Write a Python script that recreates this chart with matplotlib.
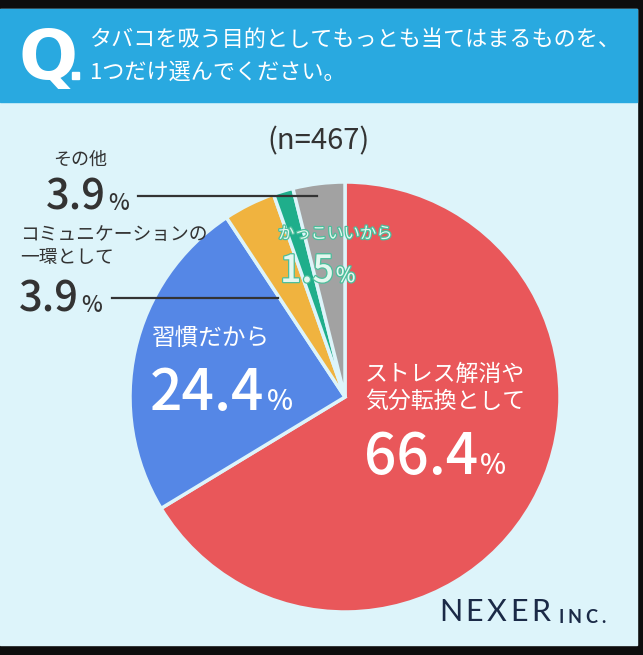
# Survey pie chart - reasons for smoking (NEXER)

import numpy as np
import matplotlib.pyplot as plt
import matplotlib.patheffects as pe
from matplotlib.patches import Rectangle

plt.rcParams['font.family'] = ['Noto Sans CJK JP', 'DejaVu Sans']

# ============================================================
# 1. DATA
# ============================================================

labels  = ['ストレス解消や\n気分転換として', '習慣だから', 'コミュニケーションの\n一環として',
           'かっこいいから', 'その他']
values  = [66.4, 24.4, 3.9, 1.5, 3.9]          # %
colors  = ['#E9575A', '#5587E6', '#F0B33F', '#1FAE8B', '#A2A2A2']
n_resp  = 467

title_q     = 'Q'
title_lines = ['タバコを吸う目的としてもっとも当てはまるものを、', '1つだけ選んでください。']

# ============================================================
# 2. CANVAS (pixel coordinates, y measured from top)
# ============================================================

W, H = 643, 655
bg_col     = '#DDF4FA'
header_col = '#29A9E0'
dark       = '#333333'
navy       = '#1B2A47'

fig = plt.figure(figsize=(W / 100, H / 100), dpi=100, facecolor='#0d0d0d')
ax = fig.add_axes([0, 0, 1, 1])
ax.set_facecolor('#0d0d0d')

def py(y):
    return H - y

ax.add_patch(Rectangle((0, py(645)), 637, 645 - 9, color=bg_col, zorder=0))
ax.add_patch(Rectangle((0, py(102)), 637, 102 - 9, color=header_col, zorder=0))

# ============================================================
# 3. PIE
# ============================================================

ax.pie(values, colors=colors, startangle=90, counterclock=False,
       center=(345, py(397)), radius=215,
       wedgeprops=dict(edgecolor=bg_col, linewidth=2.5))

ax.set_xlim(0, W)
ax.set_ylim(0, H)
ax.set_aspect('auto')
ax.axis('off')

renderer = fig.canvas.get_renderer()

def pct_label(x, y_base, num, fs_num, fs_pct, color, effects=None):
    t = ax.text(x, py(y_base), num, fontsize=fs_num, color=color, ha='left',
                va='baseline', fontweight='medium', path_effects=effects, zorder=5)
    bb = t.get_window_extent(renderer=renderer)
    ax.text(bb.x1 + 2, py(y_base), '%', fontsize=fs_pct, color=color, ha='left',
            va='baseline', fontweight='medium', path_effects=effects, zorder=5)

def spaced_text(x, y_base, s, spacing, **kw):
    # draw letters one by one with extra tracking
    for ch in s:
        t = ax.text(x, py(y_base), ch, ha='left', va='baseline', **kw)
        x = t.get_window_extent(renderer=renderer).x1 + spacing

# ============================================================
# 4. HEADER
# ============================================================

ax.text(18, py(79), title_q, fontsize=50, color='white', fontweight='bold',
        ha='left', va='baseline', family='DejaVu Sans')
ax.add_patch(Rectangle((72, py(79)), 7, 7, color='white', zorder=3))
ax.text(90, py(40), title_lines[0], fontsize=15.9, color='white', ha='left', va='center')
ax.text(90, py(73), title_lines[1], fontsize=15.9, color='white', ha='left', va='center')

ax.text(319, py(141), f'(n={n_resp})', fontsize=21, color=dark, ha='center', va='center')

# ============================================================
# 5. LABELS
# ============================================================

# その他
ax.text(80, py(160), labels[4], fontsize=13, color=dark, ha='center', va='center')
pct_label(46, 210, f'{values[4]}', 30, 16, dark)
ax.plot([138, 317], [py(196), py(196)], color=dark, lw=1.6, zorder=4)

# コミュニケーションの一環として
ax.text(20, py(246), labels[2], fontsize=13.5, color=dark, ha='left', va='center',
        linespacing=1.15)
pct_label(19, 312, f'{values[2]}', 30, 16, dark)
ax.plot([112, 278], [py(298), py(298)], color=dark, lw=1.6, zorder=4)

# かっこいいから
green_fx = [pe.withStroke(linewidth=1.8, foreground='#4CBF9C')]
ax.text(278, py(234), labels[3], fontsize=11.8, color='#E4F7EF', ha='left', va='center',
        path_effects=green_fx, zorder=5)
pct_label(280, 282, f'{values[3]}', 27, 15, '#E4F7EF', effects=green_fx)

# 習慣だから
ax.text(152, py(338), labels[1], fontsize=17, color='white', ha='left', va='center')
pct_label(150, 410, f'{values[1]}', 41, 20, 'white')

# ストレス解消や気分転換として
ax.text(365, py(388), labels[0], fontsize=16.5, color='white', ha='left', va='center',
        linespacing=1.2)
pct_label(364, 474, f'{values[0]}', 41, 20, 'white')

# ============================================================
# 6. LOGO
# ============================================================

spaced_text(439, 621, 'NEXER', 3.5, fontsize=22, color=navy, family='Lato')
spaced_text(558, 623, 'INC.', 4, fontsize=13, color=navy, family='Lato',
            fontweight='bold')

fig.savefig('out.png', dpi=100, facecolor=fig.get_facecolor())
